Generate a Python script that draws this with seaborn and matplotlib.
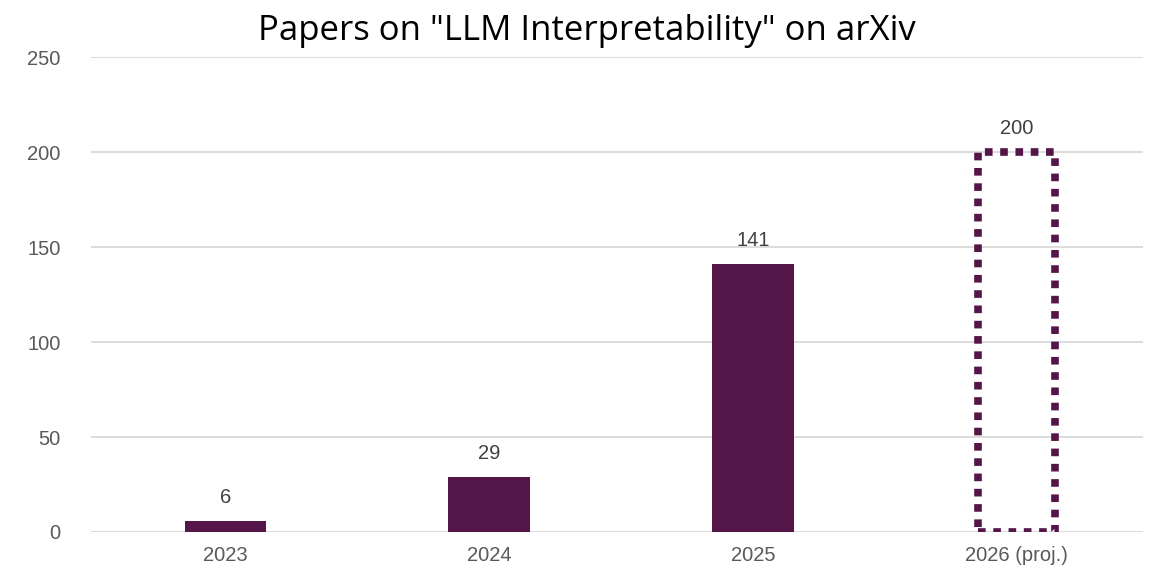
import seaborn as sns
import matplotlib.pyplot as plt
import pandas as pd

years = ["2023", "2024", "2025", "2026 (proj.)"]
papers = [6, 29, 141, 200]
projected = [False, False, False, True]

bar_color = "#541649"
text_color = "#595959"

df = pd.DataFrame({"year": years, "papers": papers})

sns.set_theme(style="white")
plt.rcParams["font.family"] = ["Liberation Sans", "DejaVu Sans"]

fig = plt.figure(figsize=(11.73, 5.77), dpi=100)
ax = fig.add_axes([0.0776, 0.078, 0.897, 0.823])

sns.barplot(data=df, x="year", y="papers", color=bar_color, saturation=1,
            width=0.31, linewidth=0, ax=ax)

# projected year: dotted outline only
for patch, proj in zip(ax.patches, projected):
    if proj:
        patch.set_facecolor("none")
        patch.set_edgecolor(bar_color)
        patch.set_linewidth(5.5)
        patch.set_linestyle((0, (1, 1)))
        patch.set_width(patch.get_width() - 0.02)
        patch.set_x(patch.get_x() + 0.01)

ax.bar_label(ax.containers[0], labels=[str(v) for v in papers], padding=10,
             fontsize=14.5, color="#404040")

ax.set_ylim(0, 250)
ax.set_yticks(range(0, 251, 50))
ax.set_xlim(-0.51, 3.48)
ax.yaxis.grid(True, color="#d9d9d9", linewidth=1.3)
ax.set_axisbelow(True)
sns.despine(ax=ax, left=True, bottom=True)
ax.tick_params(axis="both", length=0, labelsize=14.5, labelcolor=text_color)
ax.tick_params(axis="y", pad=22)
ax.tick_params(axis="x", pad=10)
ax.set_xlabel("")
ax.set_ylabel("")

fig.suptitle('Papers on "LLM Interpretability" on arXiv', y=0.975,
             fontsize=25, color="black", family=["Open Sans", "DejaVu Sans"])

fig.savefig("out.png", dpi=100)
